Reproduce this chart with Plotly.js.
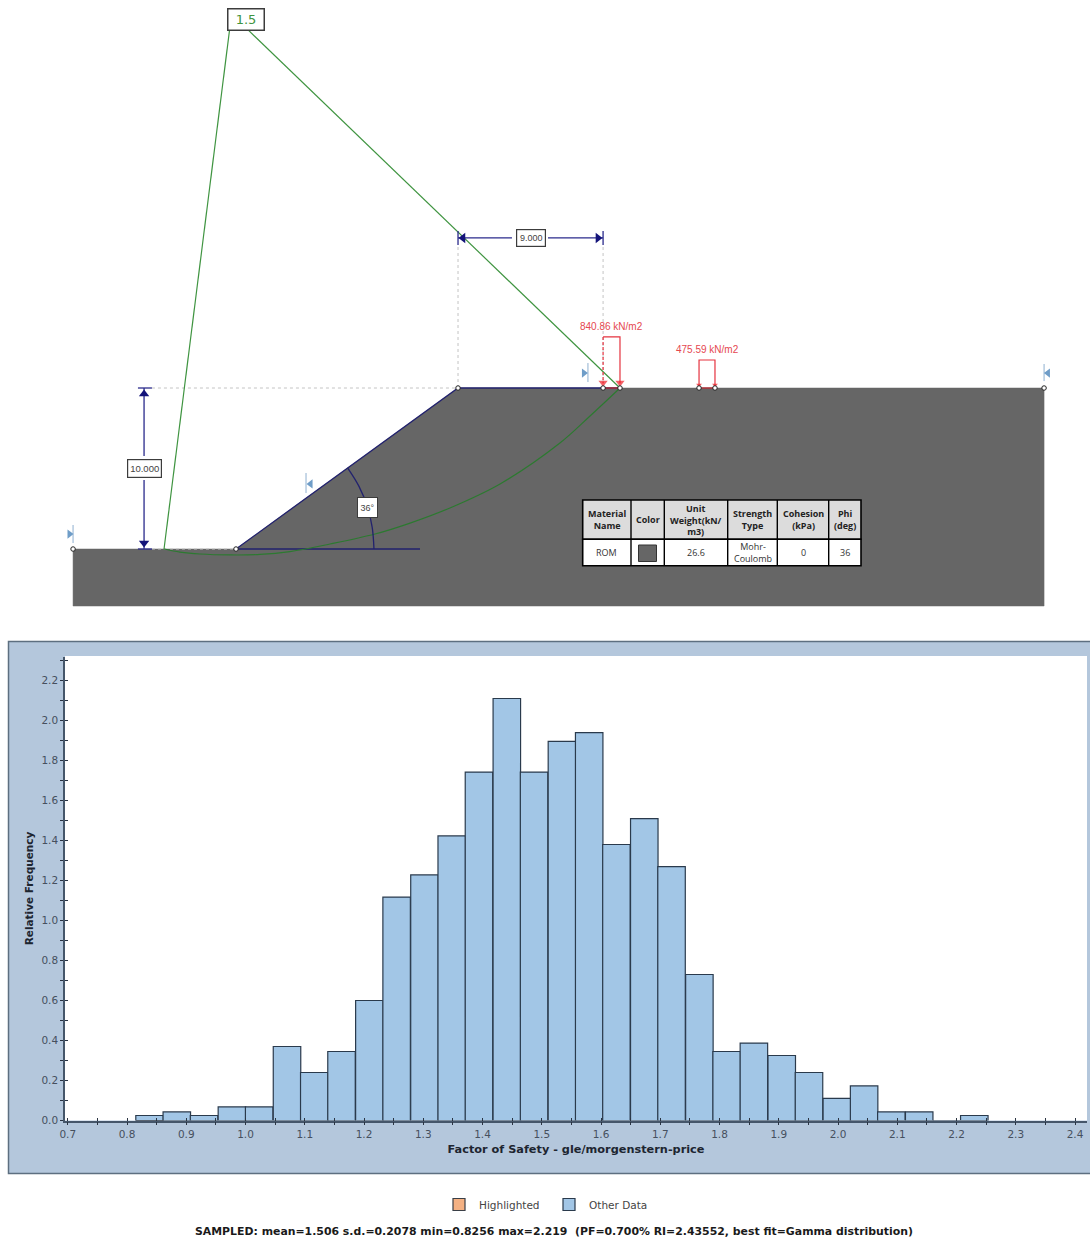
<!DOCTYPE html>
<html>
<head>
<meta charset="utf-8">
<script src="https://cdn.plot.ly/plotly-3.0.1.min.js"></script>
<style>html,body{margin:0;padding:0;background:#fff}#chart{width:1090px;height:1240px}</style>
</head>
<body>
<div id="chart"></div>
<script>
// ---------- Histogram data ----------
var binCenters = [0.838,0.884,0.930,0.977,1.023,1.070,1.116,1.162,1.209,1.255,1.302,1.348,1.394,1.441,1.487,1.534,1.580,1.626,1.673,1.719,1.766,1.812,1.858,1.905,1.951,1.998,2.044,2.090,2.137,2.183,2.230];
var relFrequency = [0.025,0.043,0.025,0.068,0.068,0.370,0.240,0.345,0.600,1.117,1.228,1.423,1.742,2.110,1.742,1.896,1.939,1.380,1.509,1.269,0.730,0.345,0.387,0.325,0.240,0.111,0.173,0.043,0.043,0,0.025];
var binWidth = 0.0464;
var seriesNames = ['Highlighted','Other Data'];
var xTitle = 'Factor of Safety - gle/morgenstern-price';
var yTitle = 'Relative Frequency';
var summaryText = 'SAMPLED: mean=1.506 s.d.=0.2078 min=0.8256 max=2.219&nbsp;&nbsp;(PF=0.700% RI=2.43552, best fit=Gamma distribution)';

// ---------- Slope model (metres, origin at the toe) ----------
var groundX = [-10.12,0,13.79,50.19,50.19,-10.12,-10.12];
var groundY = [0,0,10,10,-3.54,-3.54,0];
var slopeLineX = [11.43,0,13.79,23.85];
var slopeLineY = [0,0,10,10];
var slipArcX = [-4.47,-3.48,-2.24,-0.37,1.49,3.35,5.84,8.63,10.81,13.29,16.40,20.12,21.99,23.85];
var slipArcY = [0,-0.19,-0.31,-0.37,-0.34,-0.16,0.31,0.93,1.61,2.55,4.04,6.58,8.26,10];
var radiusLinesX = [-4.47,-0.40,null,0.75,23.85];
var radiusLinesY = [0,32.24,null,32.24,10];
var dashX = [-5.22,13.79,null,-5.22,0,null,13.79,13.79,null,22.80,22.80];
var dashY = [10,10,null,0,0,null,10,18.88,null,10,18.88];
var dimX = [13.79,17.14,null,19.38,22.80,null,13.79,13.79,null,22.80,22.80,null,-5.71,-5.71,null,-5.71,-5.71,null,-6.09,-5.22,null,-6.09,-5.22];
var dimY = [19.32,19.32,null,19.32,19.32,null,18.88,19.75,null,18.88,19.75,null,10,5.78,null,4.29,0,null,10,10,null,0,0];
var angleArcX = [6.93,7.64,8.15,8.46,8.57];
var angleArcY = [5.04,3.89,2.65,1.34,0];
var dimHeadX = [14.10,22.48,-5.71,-5.71];
var dimHeadY = [19.32,19.32,9.63,0.37];
var dimHeadSym = ['triangle-left','triangle-right','triangle-up','triangle-down'];
var handleLineX = [-10.12,-10.12,null,4.35,4.35,null,21.86,21.86,null,50.19,50.19];
var handleLineY = [0.37,1.49,null,3.48,4.72,null,10.37,11.55,null,10.43,11.49];
var handleX = [-10.34,4.63,21.61,50.43];
var handleY = [0.93,4.04,10.93,10.93];
var handleSym = ['triangle-right','triangle-left','triangle-right','triangle-left'];
var load1SolidX = [22.80,23.85,23.85];
var load1SolidY = [13.17,13.17,10.3];
var load1DashX = [22.80,22.80];
var load1DashY = [13.17,10.3];
var load2X = [28.76,28.76,29.75,29.75];
var load2Y = [10,11.74,11.74,10];
var loadBaseX = [22.80,23.85,null,28.76,29.75];
var loadBaseY = [10,10,null,10,10];
var loadHeadX = [22.80,23.85,28.76,29.75];
var loadHeadY = [10.32,10.32,10.18,10.18];
var loadHeadSize = [8,8,5,5];
var vertexX = [-10.12,0,13.79,22.80,23.85,28.76,29.75,50.19];
var vertexY = [0,0,10,10,10,10,10,10];

// ---------- Material table ----------
var tableHeaders = ['Material<br>Name','Color','Unit<br>Weight(kN/<br>m3)','Strength<br>Type','Cohesion<br>(kPa)','Phi<br>(deg)'];
var tableRow = ['ROM','','26.6','Mohr-<br>Coulomb','0','36'];
var tableColEdges = [582.7,631,664.3,727.7,777.3,828.7,861];

// ---------- Page geometry helpers ----------
var W = 1090, H = 1240;
function PX(x){ return x / W; }
function PY(y){ return 1 - y / H; }
function rectPaper(x0,y0,x1,y1,fill,lineColor,lineW,layer){
  return {type:'rect',xref:'paper',yref:'paper',x0:PX(x0),x1:PX(x1),y0:PY(y0),y1:PY(y1),
    fillcolor:fill,line:{color:lineColor||fill,width:lineW===undefined?0:lineW},layer:layer||'below'};
}
function noteBox(text,x,y,w,h,color,size,borderW,family){
  return {xref:'paper',yref:'paper',x:PX(x),y:PY(y),xanchor:'center',yanchor:'middle',showarrow:false,
    text:text,width:w,height:h,bgcolor:'#ffffff',bordercolor:'#3c3c3c',borderwidth:borderW,borderpad:0,
    font:{family:family||'Liberation Sans',size:size,color:color}};
}
function noteText(text,x,y,color,size,family,bold){
  return {xref:'paper',yref:'paper',x:PX(x),y:PY(y),xanchor:'center',yanchor:'middle',showarrow:false,
    text:bold?'<b>'+text+'</b>':text,font:{family:family||'Liberation Sans',size:size,color:color}};
}

var navy = '#22226e', red = '#e5333f', green = '#3f9440', axisDark = '#45566a', tickText = '#46505e';
var modelAxes = {xaxis:'x2',yaxis:'y2',showlegend:false,hoverinfo:'skip',type:'scatter'};
function lineTrace(x,y,color,width,dash,shape){
  return Object.assign({x:x,y:y,mode:'lines',line:{color:color,width:width,dash:dash||'solid',shape:shape||'linear'},connectgaps:false},modelAxes);
}
function markerTrace(x,y,sym,size,color,lineColor){
  return Object.assign({x:x,y:y,mode:'markers',marker:{symbol:sym,size:size,color:color,line:{color:lineColor||color,width:lineColor?1:0}}},modelAxes);
}

var traces = [
  {type:'bar',name:seriesNames[0],x:[binCenters[0]],y:[0],width:binWidth,xaxis:'x3',yaxis:'y3',
   marker:{color:'#f4b183',line:{color:'#3a3f47',width:1.2}},hoverinfo:'skip'},
  {type:'bar',name:seriesNames[1],x:binCenters,y:relFrequency,width:binWidth,xaxis:'x',yaxis:'y',
   marker:{color:'#a2c6e6',line:{color:'#2a3a4c',width:1.2}}},
  Object.assign({x:groundX,y:groundY,mode:'lines',fill:'toself',fillcolor:'#666666',line:{color:'#666666',width:0.5}},modelAxes),
  lineTrace(dashX,dashY,'#c4c4c4',1,'3px,3px'),
  lineTrace(slopeLineX,slopeLineY,navy,1.3),
  lineTrace(slipArcX,slipArcY,'#2c7a30',1.2,'solid','spline'),
  lineTrace(radiusLinesX,radiusLinesY,green,1.2),
  lineTrace(dimX,dimY,'#2a2a8c',1.3),
  lineTrace(angleArcX,angleArcY,navy,1.3,'solid','spline'),
  markerTrace(dimHeadX,dimHeadY,dimHeadSym,9,'#14147a'),
  lineTrace(handleLineX,handleLineY,'#8fb0d0',1),
  markerTrace(handleX,handleY,handleSym,8,'#6f9dc8'),
  lineTrace(load1SolidX,load1SolidY,red,1.2),
  lineTrace(load1DashX,load1DashY,red,1.2,'3px,2px'),
  lineTrace(load2X,load2Y,red,1.2),
  lineTrace(loadBaseX,loadBaseY,'#b03038',1.5),
  markerTrace(loadHeadX,loadHeadY,'triangle-down',loadHeadSize,'#ee1c25'),
  markerTrace(vertexX,vertexY,'circle',4.5,'#ffffff','#222222')
];

// ---------- Shapes ----------
var shapes = [
  rectPaper(8.5,641.5,1096,1173.5,'#b4c7dc','#5d6f80',1.5),
  rectPaper(65,656,1087,1120.5,'#ffffff','#ffffff',0)
];
var summaryNote = noteText(summaryText,553.5,1240,'#1a1a1a',10.9,'DejaVu Sans',true);
summaryNote.yanchor = 'bottom';
var annotations = [
  summaryNote,
  noteBox('1.5',246,19.5,35,20,green,13,1.5,'DejaVu Sans'),
  noteBox('9.000',531,238,28,16,'#444444',9,1.2),
  noteBox('10.000',144.5,468.5,33,17,'#444444',9.5,1.2),
  noteBox('36°',367,507,19,19,'#444444',9,1),
  noteText('840.86 kN/m2',611,327,'#e5474f',10),
  noteText('475.59 kN/m2',707,350,'#e5474f',10)
];
var tableTop = 500, tableMid = 539.3, tableBottom = 565.7, tableFont = 'Open Sans';
shapes.push(rectPaper(tableColEdges[0],tableTop,tableColEdges[6],tableMid,'#dcdcdc','#000000',1.6,'above'));
shapes.push(rectPaper(tableColEdges[0],tableMid,tableColEdges[6],tableBottom,'#ffffff','#000000',1.6,'above'));
for (var c = 1; c < tableColEdges.length - 1; c++) {
  shapes.push({type:'line',xref:'paper',yref:'paper',x0:PX(tableColEdges[c]),x1:PX(tableColEdges[c]),y0:PY(tableTop),y1:PY(tableBottom),line:{color:'#000000',width:1.4},layer:'above'});
}
shapes.push(rectPaper(638.5,545,656.5,561.5,'#666666','#333333',1,'above'));
tableHeaders.forEach(function(h,i){
  var cx = (tableColEdges[i]+tableColEdges[i+1])/2;
  annotations.push(noteText(h,cx,(tableTop+tableMid)/2,'#222222',9,tableFont,true));
  if (tableRow[i]) annotations.push(noteText(tableRow[i],cx,(tableMid+tableBottom)/2,'#333333',9,tableFont,false));
});

// ---------- Layout ----------
var axisCommon = {showgrid:false,zeroline:false,showline:true,linecolor:axisDark,linewidth:1.5,
  tickcolor:'#2a3442',tickwidth:1,ticklen:3};
var xRange = [0.6953,2.4202], yRange = [0,2.32];
var xDomain = [65/W,1087/W], yDomain = [1-1120.5/H,1-656.5/H];
var xTicks = {tick0:0.7,dtick:0.1,tickformat:'.1f',minor:{tick0:0.7,dtick:0.05,ticks:'',ticklen:3,tickcolor:'#2a3442',tickwidth:1}};
var yTicks = {tick0:0,dtick:0.2,tickformat:'.1f',minor:{tick0:0,dtick:0.1,ticks:'',ticklen:3,tickcolor:'#2a3442',tickwidth:1}};
function withMinor(base,dir){ var o = JSON.parse(JSON.stringify(base)); o.minor.ticks = dir; o.ticks = dir; return o; }

var layout = {
  width:W,height:H,margin:{l:0,r:0,t:0,b:0},paper_bgcolor:'#ffffff',plot_bgcolor:'rgba(0,0,0,0)',
  barmode:'overlay',hovermode:false,
  xaxis:Object.assign({},axisCommon,withMinor(xTicks,'inside'),{domain:xDomain,range:xRange,anchor:'y',showticklabels:false}),
  yaxis:Object.assign({},axisCommon,withMinor(yTicks,'inside'),{domain:yDomain,range:yRange,anchor:'x',showticklabels:false}),
  xaxis3:Object.assign({},axisCommon,withMinor(xTicks,'outside'),{domain:xDomain,range:xRange,anchor:'y3',overlaying:'x',
    tickfont:{family:'DejaVu Sans',size:10.5,color:tickText},
    title:{text:'<b>'+xTitle+'</b>',font:{family:'DejaVu Sans',size:11.3,color:'#1d2530'},standoff:6}}),
  yaxis3:Object.assign({},axisCommon,withMinor(yTicks,'outside'),{domain:yDomain,range:yRange,anchor:'x3',overlaying:'y',
    tickfont:{family:'DejaVu Sans',size:10.5,color:tickText},
    title:{text:'<b>'+yTitle+'</b>',font:{family:'DejaVu Sans',size:10.5,color:'#1d2530'},standoff:6}}),
  xaxis2:{domain:[0,1],range:[-14.658,53.043],visible:false,anchor:'y2',fixedrange:true},
  yaxis2:{domain:[1-630/H,1],range:[-5.031,34.099],visible:false,anchor:'x2',fixedrange:true},
  showlegend:true,
  legend:{orientation:'h',x:PX(439),y:PY(1190),xanchor:'left',yanchor:'top',bgcolor:'rgba(0,0,0,0)',
    font:{family:'DejaVu Sans',size:10.5,color:'#444444'},entrywidthmode:'pixels',entrywidth:65,itemclick:false,itemdoubleclick:false},
  shapes:shapes,annotations:annotations
};
Plotly.newPlot('chart',traces,layout,{displayModeBar:false,responsive:false});
</script>
</body>
</html>
